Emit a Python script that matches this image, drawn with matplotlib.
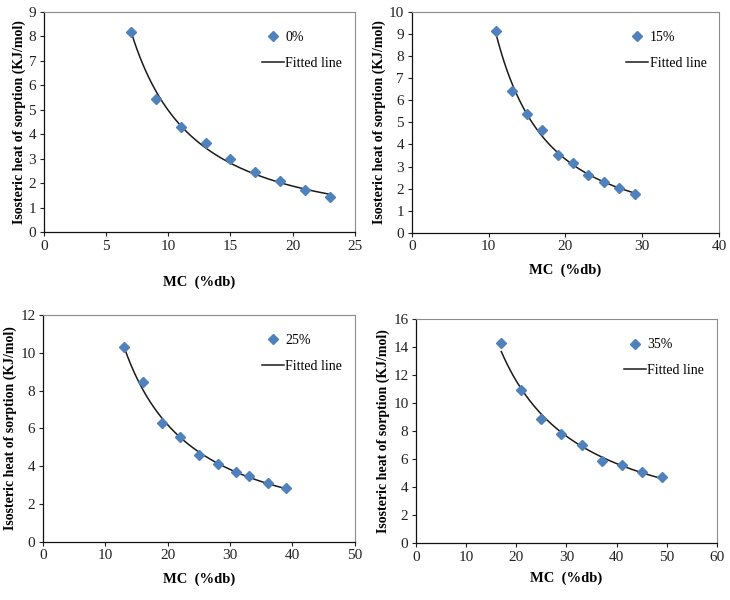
import matplotlib
matplotlib.use('Agg')
import matplotlib.pyplot as plt
import numpy as np

plt.rcParams['font.family'] = ['Liberation Serif', 'DejaVu Serif']

# ---- data ----
labels = ['0%', '15%', '25%', '35%']

mc_0 = [7, 9, 11, 13, 15, 17, 19, 21, 23]
q_0 = [8.18, 5.43, 4.32, 3.65, 2.98, 2.46, 2.08, 1.74, 1.42]

mc_15 = [11, 13, 15, 17, 19, 21, 23, 25, 27, 29]
q_15 = [9.12, 6.43, 5.38, 4.65, 3.51, 3.16, 2.64, 2.31, 2.04, 1.76]

mc_25 = [13, 16, 19, 22, 25, 28, 31, 33, 36, 39]
q_25 = [10.32, 8.43, 6.31, 5.52, 4.61, 4.12, 3.68, 3.46, 3.12, 2.83]

mc_35 = [17, 21, 25, 29, 33, 37, 41, 45, 49]
q_35 = [14.27, 10.94, 8.85, 7.82, 6.98, 5.87, 5.58, 5.10, 4.75]

x_max = [25, 40, 50, 60]
x_step = [5, 10, 10, 10]
y_max = [9, 10, 12, 16]
y_step = [1, 1, 2, 2]

series = [(mc_0, q_0), (mc_15, q_15), (mc_25, q_25), (mc_35, q_35)]

# axes boxes in figure fractions
boxes = [[0.060, 0.613, 0.426, 0.367],
         [0.564, 0.612, 0.421, 0.368],
         [0.059, 0.097, 0.427, 0.378],
         [0.570, 0.095, 0.412, 0.373]]
xlabel_pad = [16, 7, 7, 6]

fig = plt.figure(figsize=(7.3, 6.0), dpi=100)

for i in range(4):
    ax = fig.add_axes(boxes[i])
    x = np.array(series[i][0], dtype=float)
    y = np.array(series[i][1], dtype=float)

    # power fit y = a*x^b, as in the spreadsheet trendline
    b, ln_a = np.polyfit(np.log(x), np.log(y), 1)
    xs = np.linspace(x.min(), x.max(), 200)
    ys = np.exp(ln_a) * xs ** b

    ax.plot(x, y, 'D', color='#4f81bd', markersize=5.5, label=labels[i], zorder=3)
    ax.plot(xs, ys, color='#1a1a1a', lw=1.1, label='Fitted line', zorder=2)

    ax.set_xlim(0, x_max[i])
    ax.set_ylim(0, y_max[i])
    ax.set_xticks(np.arange(0, x_max[i] + 1, x_step[i]))
    ax.set_yticks(np.arange(0, y_max[i] + 1, y_step[i]))
    ax.tick_params(labelsize=11, length=3, width=0.8, pad=2.5, colors='#222222')

    for s in ['top', 'right']:
        ax.spines[s].set_color('#8c8c8c')
        ax.spines[s].set_linewidth(0.8)
    for s in ['left', 'bottom']:
        ax.spines[s].set_color('#111111')
        ax.spines[s].set_linewidth(0.9)

    ax.set_xlabel('MC  (%db)', fontsize=10.5, fontweight='bold', labelpad=xlabel_pad[i])
    ax.set_ylabel('Isosteric heat of sorption (KJ/mol)', fontsize=10, fontweight='bold', labelpad=2)

    ax.legend(loc='upper right', bbox_to_anchor=(1.0, 0.97), frameon=False,
              fontsize=10, handlelength=1.6, handletextpad=0.1, labelspacing=0.9)

plt.savefig('out.png', dpi=100)
